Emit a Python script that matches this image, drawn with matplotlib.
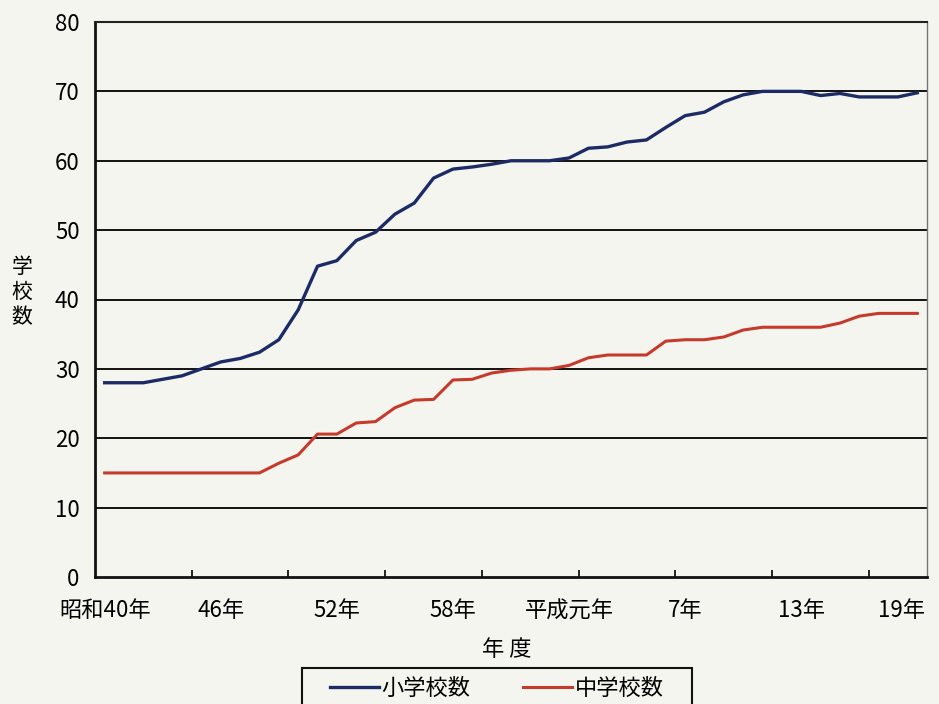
import numpy as np
import matplotlib
matplotlib.use('Agg')
import matplotlib.pyplot as plt
from matplotlib.transforms import ScaledTranslation
from matplotlib.patches import Rectangle

plt.rcParams['font.family'] = ['Noto Sans CJK JP', 'DejaVu Sans']

# 昭和40年(1965) - 平成19年(2007)
years = list(range(1965, 2008))
tick_labels = ['昭和40年', '46年', '52年', '58年', '平成元年', '7年', '13年', '19年']

# 小学校数
elementary = [28, 28, 28, 28.5, 29, 30, 31, 31.5, 32.4, 34.2, 38.5, 44.8, 45.6,
              48.5, 49.7, 52.3, 53.9, 57.5, 58.8, 59.1, 59.5, 60, 60, 60,
              60.4, 61.8, 62, 62.7, 63, 64.8, 66.5, 67, 68.5, 69.5, 70, 70,
              70, 69.4, 69.7, 69.2, 69.2, 69.2, 69.8]
# 中学校数
junior = [15, 15, 15, 15, 15, 15, 15, 15, 15, 16.4, 17.6, 20.6, 20.6,
          22.2, 22.4, 24.4, 25.5, 25.6, 28.4, 28.5, 29.4, 29.8, 30, 30,
          30.5, 31.6, 32, 32, 32, 34, 34.2, 34.2, 34.6, 35.6, 36, 36,
          36, 36, 36.6, 37.6, 38, 38, 38]

bg = '#f5f5ef'
fig = plt.figure(figsize=(9.39, 7.04), dpi=100, facecolor=bg)
ax = fig.add_axes([95/939, 1-577/704, (927-95)/939, (577-22)/704])
ax.set_facecolor(bg)

x = np.arange(len(years))
ax.plot(x, elementary, color='#1c2b66', lw=2.4, label='小学校数')
ax.plot(x, junior, color='#c63a2c', lw=2.2, label='中学校数')

ax.set_xlim(-0.5, len(years) - 0.5)
ax.set_ylim(0, 80)
ax.set_yticks(range(0, 90, 10))
for v in range(10, 80, 10):
    ax.axhline(v, color='#111111', lw=1.4, zorder=0)

ax.set_xticks(x[::6])
ax.set_xticklabels(tick_labels)
ax.set_xticks(np.arange(4.5, len(years) - 1, 5), minor=True)
ax.tick_params(axis='x', which='major', length=0, pad=16, labelsize=16)
ax.tick_params(axis='x', which='minor', direction='in', length=5, width=1.2)
ax.tick_params(axis='y', length=0, pad=11, labelsize=16)
last = ax.get_xticklabels()[-1]
last.set_transform(last.get_transform() + ScaledTranslation(-0.16, 0, fig.dpi_scale_trans))

for s in ['left', 'bottom']:
    ax.spines[s].set_linewidth(2)
    ax.spines[s].set_color('#111111')
ax.spines['top'].set_linewidth(1.5)
ax.spines['top'].set_color('#222222')
ax.spines['right'].set_linewidth(1)
ax.spines['right'].set_color('#777777')

fig.text(22/939, 1-292/704, '学\n校\n数', ha='center', va='center',
         fontsize=15, linespacing=1.2)
fig.text(507/939, 1-650/704, '年 度', ha='center', va='center', fontsize=16)

# legend box (runs off the bottom edge like the scan)
fig.patches.append(Rectangle((302/939, -0.02), (692-302)/939, 0.02 + (704-668)/704,
                             transform=fig.transFigure, facecolor=bg,
                             edgecolor='#111111', lw=1.5, zorder=1))
leg = fig.legend(loc='center left', bbox_to_anchor=(330/939, 1-688/704), ncol=2,
                 fontsize=16, frameon=False, handlelength=2.2, columnspacing=2.4,
                 borderpad=0, borderaxespad=0, handletextpad=0.1)
leg.set_zorder(2)

fig.savefig('out.png', dpi=100, facecolor=bg)
